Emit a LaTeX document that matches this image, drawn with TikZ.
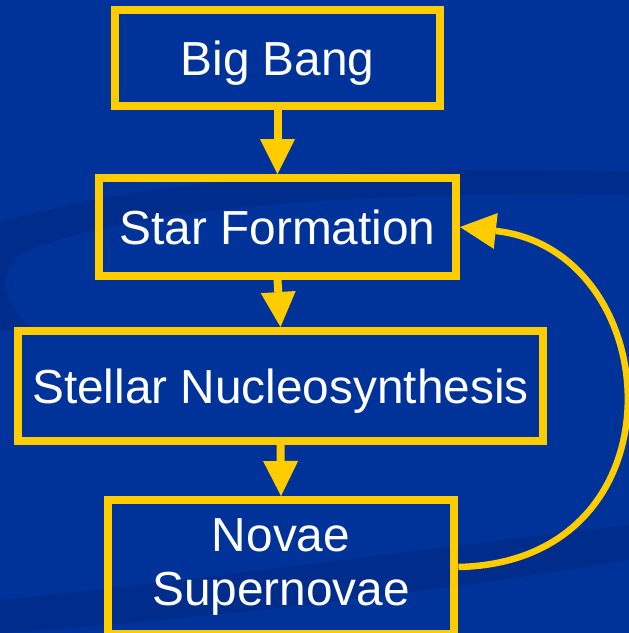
\documentclass[tikz,border=0pt]{standalone}
\usepackage{fontspec}
\setmainfont{Liberation Sans}
\usetikzlibrary{arrows.meta}

\definecolor{slideblue}{RGB}{0,51,153}
\definecolor{swirlblue}{RGB}{0,44,140}
\definecolor{gold}{RGB}{255,204,0}

\begin{document}
\begin{tikzpicture}[x=0.02cm, y=-0.02cm,
    stage/.style={draw=gold, line width=0.16cm, text=white, align=center,
      inner sep=0pt, text depth=0pt, font=\fontsize{27.2}{30.7}\selectfont},
    flow/.style={draw=gold, line width=0.16cm,
      -{Triangle[width=0.7cm, length=0.7cm, line width=0pt]}},
    loopback/.style={draw=gold, line width=0.13cm,
      -{Triangle[width=0.72cm, length=0.72cm, line width=0pt]}}]
    % Background and swirls
    \useasboundingbox (0,0) rectangle (629,633);
    \clip (0,0) rectangle (629,633);
    \fill[slideblue] (0,0) rectangle (629,633);
    \fill[swirlblue] (0,223) .. controls (150,175) and (400,165) .. (629,172)
    -- (629,195) .. controls (400,190) and (120,205) .. (20,255)
    .. controls (-5,275) and (5,310) .. (35,330)
    -- (0,330) -- cycle;
    \fill[swirlblue] (0,600) .. controls (200,580) and (450,545) .. (629,525)
    -- (629,560) .. controls (450,590) and (200,620) .. (0,633) -- cycle;
    % Stages
    \node[stage, minimum width=6.5cm, minimum height=1.92cm]
    (bigbang) at (277.5,58) {Big Bang};
    \node[stage, minimum width=7.14cm, minimum height=1.96cm]
    (starform) at (277.5,227) {Star Formation};
    \node[stage, minimum width=10.5cm, minimum height=2.2cm]
    (nucleo) at (280.5,386) {Stellar Nucleosynthesis};
    \node[stage, text depth=0.2cm, minimum width=6.94cm, minimum height=2.68cm]
    (novae) at (281,567) {Novae\\Supernovae};
    % Arrows
    \draw[flow] (bigbang) -- (starform);
    \draw[flow] (starform.south) -- (nucleo.north);
    \draw[flow] (nucleo.south) -- (novae.north);
    % Back to star formation
    \draw[loopback] (novae.east) .. controls (688,562) and (668,250)
    .. (starform.east);
\end{tikzpicture}
\end{document}
